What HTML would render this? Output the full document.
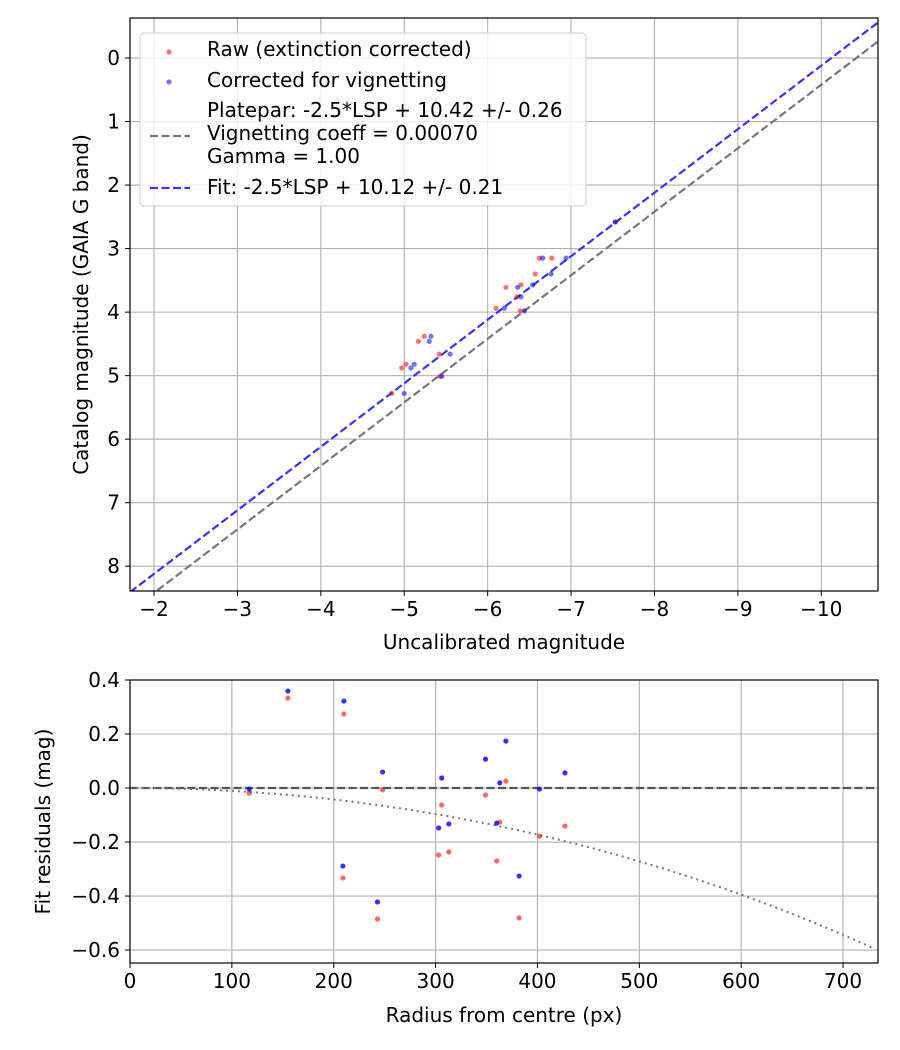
<!DOCTYPE html>
<html><head><meta charset="utf-8"><style>
body{margin:0;background:#fff;}
svg{display:block;font-family:"DejaVu Sans","Liberation Sans",sans-serif;}
</style></head><body>
<svg id="c" width="900" height="1050" xmlns="http://www.w3.org/2000/svg">
<rect width="900" height="1050" fill="#fff"/>
<g id="top"></g>
<g id="bot"></g>
</svg>
<script>
// ---- top chart data ----
const rawX = [-4.85,-4.97,-5.02,-5.17,-5.24,-5.42,-5.43,-6.10,-6.22,-6.35,-6.40,-6.39,-6.57,-6.62,-6.77,-7.53];
const corrX = [-5.00,-5.08,-5.12,-5.30,-5.32,-5.55,-5.45,-6.20,-6.36,-6.40,-6.54,-6.44,-6.76,-6.66,-6.94,-7.53];
const catMag = [5.28,4.88,4.82,4.46,4.38,4.66,5.01,3.94,3.61,3.76,3.57,3.98,3.40,3.15,3.15,2.58];
const plateparZP = 10.42;
const fitZP = 10.12;
const topXTicks = [-2,-3,-4,-5,-6,-7,-8,-9,-10];
const topYTicks = [0,1,2,3,4,5,6,7,8];
// ---- bottom chart data ----
const radius = [117,155,210,209,243,248,303,306,313,349,360,363,369,382,402,427];
const residRaw = [-0.019,0.333,0.274,-0.333,-0.485,-0.007,-0.248,-0.063,-0.237,-0.026,-0.270,-0.126,0.026,-0.481,-0.178,-0.141];
const residCorr = [-0.004,0.359,0.322,-0.289,-0.422,0.059,-0.148,0.037,-0.133,0.107,-0.130,0.019,0.174,-0.326,-0.004,0.056];
const vignCoeff = 0.0007;
const botXTicks = [0,100,200,300,400,500,600,700];
const botYTicks = [0.4,0.2,0.0,-0.2,-0.4,-0.6];

const NS='http://www.w3.org/2000/svg';
function mk(parent,tag,attrs,name,text){
  const e=document.createElementNS(NS,tag);
  for(const k in attrs) e.setAttribute(k,attrs[k]);
  
  
  if(text!==undefined) e.textContent=text;
  parent.appendChild(e); return e;
}
const FS=20;
function frame(g,L,T,R,B){
  mk(g,'rect',{x:L,y:T,width:R-L,height:B-T,fill:'none',stroke:'#000','stroke-width':1.2},'plot-frame');
}
// ---- TOP ----
(function(){
  const g=document.getElementById('top');
  const L=130,T=18,R=878,B=591;
  const x0=-1.712,x1=-10.68,y0=-0.63,y1=8.39;
  const sx=v=>L+(v-x0)/(x1-x0)*(R-L);
  const sy=v=>T+(v-y0)/(y1-y0)*(B-T);
  const clip=mk(g,'clipPath',{id:'ct'},'clip');
  mk(clip,'rect',{x:L,y:T,width:R-L,height:B-T},'clip-rect');
  topXTicks.forEach(t=>{
    const x=sx(t);
    mk(g,'line',{x1:x,x2:x,y1:T,y2:B,stroke:'#b0b0b0','stroke-width':1.1},'x-gridline');
    mk(g,'line',{x1:x,x2:x,y1:B,y2:B+5,stroke:'#000'},'x-tick');
    mk(g,'text',{x:x,y:B+25,'font-size':FS,'text-anchor':'middle'},'x-tick-label',t<0?'\u2212'+(-t):t);
  });
  topYTicks.forEach(t=>{
    const y=sy(t);
    mk(g,'line',{x1:L,x2:R,y1:y,y2:y,stroke:'#b0b0b0','stroke-width':1.1},'y-gridline');
    mk(g,'line',{x1:L-5,x2:L,y1:y,y2:y,stroke:'#000'},'y-tick');
    mk(g,'text',{x:L-10,y:y+7,'font-size':FS,'text-anchor':'end'},'y-tick-label',t);
  });
  const lg=mk(g,'g',{'clip-path':'url(#ct)'},'series-layer');
  mk(lg,'line',{x1:sx(x0),y1:sy(x0+plateparZP),x2:sx(x1),y2:sy(x1+plateparZP),stroke:'#777','stroke-width':2.2,'stroke-dasharray':'8,3.5'},'platepar-line');
  mk(lg,'line',{x1:sx(x0),y1:sy(x0+fitZP),x2:sx(x1),y2:sy(x1+fitZP),stroke:'#3333ff','stroke-width':2.2,'stroke-dasharray':'8,3.5'},'fit-line');
  rawX.forEach((v,i)=>mk(lg,'circle',{cx:sx(v),cy:sy(catMag[i]),r:2.6,fill:'red','fill-opacity':0.55},'raw-point'));
  corrX.forEach((v,i)=>mk(lg,'circle',{cx:sx(v),cy:sy(catMag[i]),r:2.6,fill:'blue','fill-opacity':0.55},'corrected-point'));
  frame(g,L,T,R,B);
  mk(g,'text',{x:(L+R)/2,y:649,'font-size':FS,'text-anchor':'middle'},'x-axis-title','Uncalibrated magnitude');
  mk(g,'text',{x:0,y:0,'font-size':FS,'text-anchor':'middle',transform:`translate(88,${(T+B)/2}) rotate(-90)`},'y-axis-title','Catalog magnitude (GAIA G band)');
  // legend
  const lgd=mk(g,'g',{},'legend');
  mk(lgd,'rect',{x:140,y:33,width:446,height:173,rx:4,fill:'#fff','fill-opacity':0.8,stroke:'#ccc'},'legend-box');
  mk(lgd,'circle',{cx:169,cy:52,r:2.6,fill:'red','fill-opacity':0.55},'legend-raw-marker');
  mk(lgd,'text',{x:207,y:56,'font-size':FS},'legend-raw-label','Raw (extinction corrected)');
  mk(lgd,'circle',{cx:169,cy:82,r:2.6,fill:'blue','fill-opacity':0.55},'legend-corrected-marker');
  mk(lgd,'text',{x:207,y:87,'font-size':FS},'legend-corrected-label','Corrected for vignetting');
  mk(lgd,'line',{x1:150,x2:190,y1:136,y2:136,stroke:'#777','stroke-width':2.2,'stroke-dasharray':'8,3.5'},'legend-platepar-line');
  mk(lgd,'text',{x:207,y:117,'font-size':FS},'legend-platepar-label','Platepar: -2.5*LSP + 10.42 +/- 0.26');
  mk(lgd,'text',{x:207,y:140,'font-size':FS},'legend-vignetting-label','Vignetting coeff = 0.00070');
  mk(lgd,'text',{x:207,y:163,'font-size':FS},'legend-gamma-label','Gamma = 1.00');
  mk(lgd,'line',{x1:150,x2:190,y1:188,y2:188,stroke:'#3333ff','stroke-width':2.2,'stroke-dasharray':'8,3.5'},'legend-fit-line');
  mk(lgd,'text',{x:207,y:194,'font-size':FS},'legend-fit-label','Fit: -2.5*LSP + 10.12 +/- 0.21');
})();
// ---- BOTTOM ----
(function(){
  const g=document.getElementById('bot');
  const L=130,T=680,R=878,B=963;
  const x0=0,x1=734.3,y0=0.4,y1=-0.648;
  const sx=v=>L+(v-x0)/(x1-x0)*(R-L);
  const sy=v=>T+(v-y0)/(y1-y0)*(B-T);
  const clip=mk(g,'clipPath',{id:'cb'},'clip');
  mk(clip,'rect',{x:L,y:T,width:R-L,height:B-T},'clip-rect');
  botXTicks.forEach(t=>{
    const x=sx(t);
    mk(g,'line',{x1:x,x2:x,y1:T,y2:B,stroke:'#b0b0b0','stroke-width':1.1},'x-gridline');
    mk(g,'line',{x1:x,x2:x,y1:B,y2:B+5,stroke:'#000'},'x-tick');
    mk(g,'text',{x:x,y:B+25,'font-size':FS,'text-anchor':'middle'},'x-tick-label',t);
  });
  botYTicks.forEach(t=>{
    const y=sy(t);
    mk(g,'line',{x1:L,x2:R,y1:y,y2:y,stroke:'#b0b0b0','stroke-width':1.1},'y-gridline');
    mk(g,'line',{x1:L-5,x2:L,y1:y,y2:y,stroke:'#000'},'y-tick');
    mk(g,'text',{x:L-10,y:y+7,'font-size':FS,'text-anchor':'end'},'y-tick-label',(t<0?'\u2212':'')+Math.abs(t).toFixed(1));
  });
  const lg=mk(g,'g',{'clip-path':'url(#cb)'},'series-layer');
  mk(lg,'line',{x1:L,x2:R,y1:sy(0),y2:sy(0),stroke:'#555','stroke-width':2.2,'stroke-dasharray':'8,3.5'},'zero-line');
  let d='';
  for(let r=0;r<=x1;r+=5){
    const c=Math.cos(vignCoeff*r);
    const v=2.5*Math.log10(Math.pow(c,4));
    d+=(r?'L':'M')+sx(r).toFixed(1)+','+sy(v).toFixed(1);
  }
  mk(lg,'path',{d:d,fill:'none',stroke:'#777','stroke-width':2,'stroke-dasharray':'2,4'},'vignetting-curve');
  radius.forEach((v,i)=>mk(lg,'circle',{cx:sx(v),cy:sy(residRaw[i]),r:2.6,fill:'red','fill-opacity':0.6},'raw-residual-point'));
  radius.forEach((v,i)=>mk(lg,'circle',{cx:sx(v),cy:sy(residCorr[i]),r:2.6,fill:'blue','fill-opacity':0.8},'corrected-residual-point'));
  frame(g,L,T,R,B);
  mk(g,'text',{x:(L+R)/2,y:1022,'font-size':FS,'text-anchor':'middle'},'x-axis-title','Radius from centre (px)');
  mk(g,'text',{x:0,y:0,'font-size':FS,'text-anchor':'middle',transform:`translate(50,${(T+B)/2}) rotate(-90)`},'y-axis-title','Fit residuals (mag)');
})();
</script>
</body></html>
